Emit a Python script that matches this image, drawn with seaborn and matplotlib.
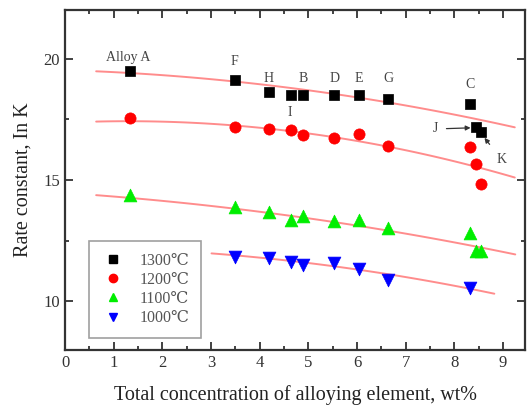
import numpy as np
import pandas as pd
import matplotlib
matplotlib.use("Agg")
import matplotlib.pyplot as plt
import seaborn as sns
from matplotlib.ticker import MultipleLocator
from matplotlib.lines import Line2D

# ---- data ----
alloys = ["A", "F", "H", "I", "B", "D", "E", "G", "C", "J", "K"]
conc = [1.33, 3.49, 4.19, 4.65, 4.89, 5.53, 6.04, 6.64, 8.32, 8.44, 8.55]
k1300 = [19.48, 19.11, 18.61, 18.50, 18.49, 18.49, 18.49, 18.34, 18.15, 17.19, 16.98]
k1200 = [17.56, 17.19, 17.08, 17.05, 16.84, 16.71, 16.88, 16.39, 16.34, 15.64, 14.83]
k1100 = [14.40, 13.90, 13.69, 13.35, 13.51, 13.30, 13.35, 13.03, 12.80, 12.07, 12.07]
k1000 = [np.nan, 11.84, 11.80, 11.64, 11.50, 11.60, 11.33, 10.88, 10.57, np.nan, np.nan]
temps = ["1300℃", "1200℃", "1100℃", "1000℃"]

# fitted trend curves
fit1300_x = [0.64, 3.59, 5.54, 6.02, 6.60, 9.24]
fit1300_y = [19.49, 18.98, 18.56, 18.45, 18.18, 17.16]
fit1200_x = [0.64, 3.59, 5.54, 6.60, 8.45, 9.24]
fit1200_y = [17.40, 17.26, 16.71, 16.38, 15.61, 15.06]
fit1100_x = [0.64, 3.59, 6.60, 8.32, 9.25]
fit1100_y = [14.38, 13.78, 12.95, 12.29, 11.94]
fit1000_x = [3.01, 3.59, 6.60, 8.32, 8.82]
fit1000_y = [11.98, 11.88, 11.12, 10.56, 10.29]

xticks = [0, 1, 2, 3, 4, 5, 6, 7, 8, 9]
yticks = [10, 15, 20]

# ---- build table ----
rows = []
for t, vals in zip(temps, [k1300, k1200, k1100, k1000]):
    for a, x, v in zip(alloys, conc, vals):
        if not np.isnan(v):
            rows.append(dict(alloy=a, conc=x, lnk=v, temp=t))
df = pd.DataFrame(rows)

sns.set_theme(style="ticks")
plt.rcParams["font.family"] = ["Liberation Serif", "DejaVu Serif"]

fig = plt.figure(figsize=(5.30, 4.09), dpi=100)
ax = fig.add_axes([65 / 530, 59 / 409, 460 / 530, 340 / 409])

fit_color = "#ff8080"
for fx, fy in [(fit1300_x, fit1300_y), (fit1200_x, fit1200_y),
               (fit1100_x, fit1100_y), (fit1000_x, fit1000_y)]:
    sns.regplot(x=fx, y=fy, order=2, ci=None, scatter=False, truncate=True,
                line_kws=dict(color=fit_color, lw=1.4, alpha=0.9), ax=ax)

palette = {"1300℃": "black", "1200℃": "#ff0000", "1100℃": "#00ee00", "1000℃": "#0000ff"}
markers = {"1300℃": "s", "1200℃": "o", "1100℃": "^", "1000℃": "v"}
sizes = {"1300℃": 55, "1200℃": 65, "1100℃": 85, "1000℃": 85}
for t in temps:
    sub = df[df.temp == t]
    sns.scatterplot(data=sub, x="conc", y="lnk", color=palette[t], marker=markers[t],
                    s=sizes[t], edgecolor=palette[t], linewidth=0.5, ax=ax, zorder=5,
                    legend=False)

ax.set_xlim(0, 9.45)
ax.set_ylim(8, 22)
ax.set_xticks(xticks)
ax.set_yticks(yticks)
ax.xaxis.set_minor_locator(MultipleLocator(0.5))
ax.yaxis.set_minor_locator(MultipleLocator(2.5))
ax.tick_params(which="both", direction="in", top=True, right=True, labelsize=12,
               colors="#333333", width=1.3)
ax.tick_params(which="major", length=6)
ax.tick_params(which="minor", length=3)
for s in ax.spines.values():
    s.set_linewidth(1.6)
    s.set_color("#333333")

ax.set_xlabel("Total concentration of alloying element, wt%", fontsize=14.5,
              color="#222222", labelpad=10)
ax.set_ylabel("Rate constant, In K", fontsize=14.5, color="#222222", labelpad=8)

# point labels
lab_kw = dict(fontsize=10, color="#444444", ha="center", va="center")
ax.text(1.3, 20.05, "Alloy A", **lab_kw)
ax.text(3.49, 19.9, "F", **lab_kw)
for a, x in [("H", 4.19), ("B", 4.89), ("D", 5.53), ("E", 6.04), ("G", 6.64)]:
    ax.text(x, 19.2, a, **lab_kw)
ax.text(8.32, 18.94, "C", **lab_kw)
ax.text(4.62, 17.77, "I", **lab_kw)
ax.annotate("J", xy=(8.36, 17.15), xytext=(7.6, 17.1), fontsize=10, color="#444444",
            ha="center", va="center",
            arrowprops=dict(arrowstyle="-|>", color="#333333", lw=0.9, mutation_scale=7,
                            shrinkA=4, shrinkB=1))
ax.annotate("K", xy=(8.6, 16.78), xytext=(8.97, 15.84), fontsize=10, color="#444444",
            ha="center", va="center",
            arrowprops=dict(arrowstyle="-|>", color="#333333", lw=0.9, mutation_scale=7,
                            shrinkA=5, shrinkB=1))

handles = [Line2D([], [], ls="none", marker=markers[t], color=palette[t],
                  markersize=6, label=t) for t in temps]
leg = ax.legend(handles=handles, loc="lower left", bbox_to_anchor=(0.052, 0.035),
                borderaxespad=0, frameon=True, fancybox=False, fontsize=11.5,
                handletextpad=0.9, borderpad=0.75, labelspacing=0.2, handlelength=1.5)
leg.get_frame().set_edgecolor("#888888")
leg.get_frame().set_linewidth(1.2)
for txt in leg.get_texts():
    txt.set_color("#555555")

fig.savefig("out.png", dpi=100)
